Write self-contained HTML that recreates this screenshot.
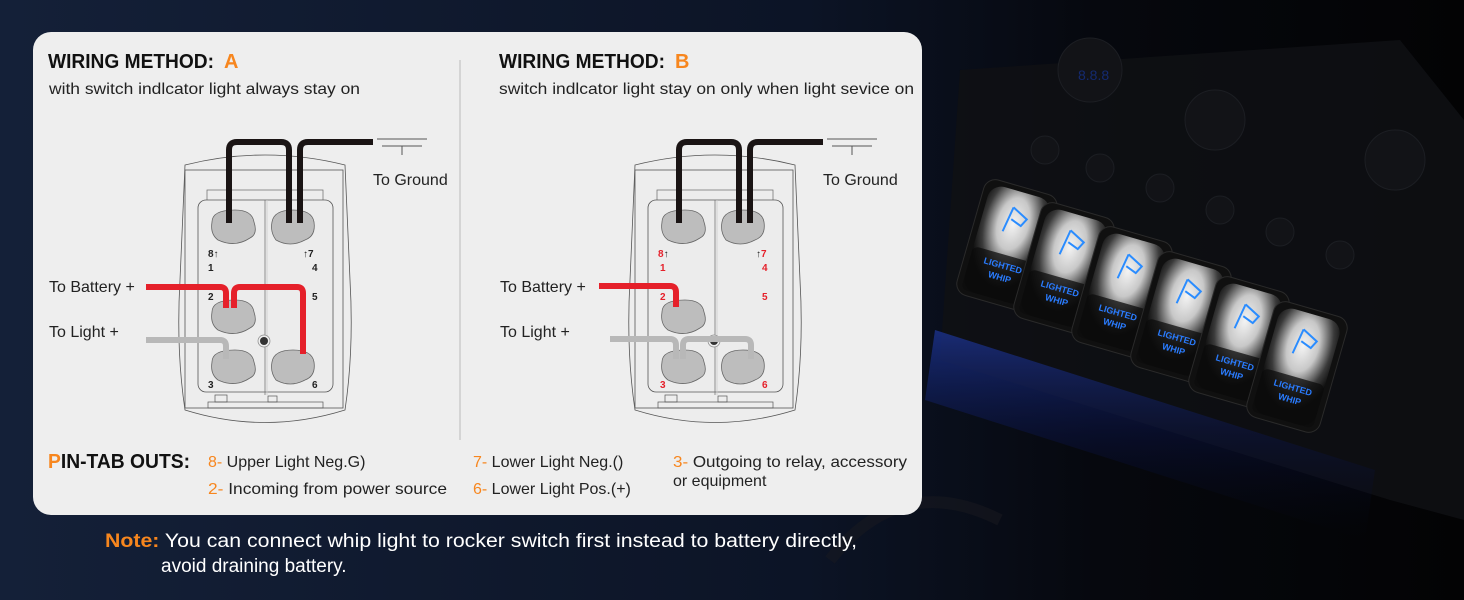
<!DOCTYPE html>
<html><head><meta charset="utf-8"><style>
html,body{margin:0;padding:0;width:1464px;height:600px;overflow:hidden;background:#0d1424}
svg{display:block}
text{font-family:"Liberation Sans",sans-serif}
</style></head><body>
<svg width="1464" height="600" viewBox="0 0 1464 600" xmlns="http://www.w3.org/2000/svg">
<defs>
<linearGradient id="bg" x1="0" y1="0" x2="1" y2="0">
<stop offset="0" stop-color="#142038"/><stop offset="0.55" stop-color="#0c1426"/><stop offset="0.75" stop-color="#06080e"/><stop offset="1" stop-color="#030304"/>
</linearGradient>
<radialGradient id="glow" cx="0.5" cy="0.3" r="0.6">
<stop offset="0" stop-color="#f4f4f4"/><stop offset="0.4" stop-color="#c8c8c8"/><stop offset="0.75" stop-color="#3a3a3a"/><stop offset="1" stop-color="#0a0a0a"/>
</radialGradient>
<linearGradient id="blue" x1="0" y1="0" x2="0" y2="1">
<stop offset="0" stop-color="#1d3596" stop-opacity="0.75"/><stop offset="0.5" stop-color="#0c1650" stop-opacity="0.4"/><stop offset="1" stop-color="#05081a" stop-opacity="0"/>
</linearGradient>
<g id="sw">
<path d="M45 35 Q125 15 205 35 L210 150 Q214 220 205 280 Q125 305 45 280 Q36 220 40 150 Z" fill="#ededed" stroke="#555" stroke-width="0.8"/>
<rect x="45" y="40" width="158" height="238" fill="#ededed" stroke="#555" stroke-width="0.8"/>
<rect x="67" y="60" width="116" height="12" fill="none" stroke="#666" stroke-width="0.7"/>
<rect x="58" y="70" width="135" height="192" rx="8" fill="#ececec" stroke="#555" stroke-width="0.8"/>
<line x1="125" y1="70" x2="125" y2="265" stroke="#777" stroke-width="0.8"/>
<line x1="127" y1="70" x2="127" y2="265" stroke="#ccc" stroke-width="0.8"/>
<rect x="75" y="265" width="12" height="7" fill="none" stroke="#555" stroke-width="0.7"/>
<rect x="128" y="266" width="9" height="6" fill="none" stroke="#555" stroke-width="0.7"/>
<rect x="68" y="272" width="115" height="6" fill="none" stroke="#555" stroke-width="0.7"/>
<g fill="#bdbdbd" stroke="#666" stroke-width="0.8">
<path d="M72 92 Q72 80 95 80 Q112 80 114 92 Q118 104 110 108 Q95 118 78 110 Q70 104 72 92Z"/>
<path d="M132 92 Q134 80 153 80 Q172 80 174 92 Q176 106 165 110 Q150 118 136 110 Q130 102 132 92Z"/>
<path d="M72 182 Q72 170 95 170 Q112 170 114 182 Q118 194 110 198 Q95 208 78 200 Q70 194 72 182Z"/>
<path d="M72 232 Q72 220 95 220 Q112 220 114 232 Q118 244 110 248 Q95 258 78 250 Q70 244 72 232Z"/>
<path d="M132 232 Q134 220 153 220 Q172 220 174 232 Q176 246 165 250 Q150 258 136 250 Q130 242 132 232Z"/>
</g>
<circle cx="124" cy="211" r="6" fill="#eee" stroke="#888" stroke-width="0.7"/>
<circle cx="124" cy="211" r="4" fill="#333"/>
<g fill="none" stroke="#1a1414" stroke-width="6" stroke-linejoin="round">
<path d="M89 93 V20 Q89 12 97 12 H141 Q149 12 149 20 V93"/>
<path d="M160 93 V20 Q160 12 168 12 H233"/>
</g>
<g stroke="#555" stroke-width="1"><line x1="237" y1="9" x2="287" y2="9"/><line x1="242" y1="16" x2="282" y2="16"/><line x1="262" y1="16" x2="262" y2="25"/></g>
<text x="233" y="55" font-size="16" fill="#222">To Ground</text>
</g>
<g id="rk">
<rect x="-38" y="-60" width="76" height="120" rx="12" fill="#101010" stroke="#2a2a2a"/>
<rect x="-32" y="-55" width="64" height="110" rx="14" fill="url(#glow)"/>
<rect x="-32" y="10" width="64" height="45" rx="6" fill="#0c0c0c" opacity="0.75"/>
<path d="M-8 -12 L-4 -38 M-4 -38 L12 -30 L8 -22 L-3 -26" stroke="#2a8cff" stroke-width="2" fill="none"/>
<text x="-18" y="24" font-size="9" fill="#2a7cff" font-weight="bold">LIGHTED</text>
<text x="-10" y="36" font-size="9" fill="#2a7cff" font-weight="bold">WHIP</text>
</g>
</defs>
<rect width="1464" height="600" fill="url(#bg)"/>
<!-- photo panel -->
<path d="M960 70 L1400 40 L1464 120 L1464 520 L1390 500 L940 360 Z" fill="#0f1114" opacity="0.85"/>
<path d="M935 330 L1375 470 L1365 540 L925 400 Z" fill="url(#blue)"/>
<g fill="#121317" stroke="#1c1e23">
<circle cx="1090" cy="70" r="32"/><circle cx="1215" cy="120" r="30"/><circle cx="1395" cy="160" r="30"/>
<circle cx="1045" cy="150" r="14"/><circle cx="1100" cy="168" r="14"/><circle cx="1160" cy="188" r="14"/><circle cx="1220" cy="210" r="14"/><circle cx="1280" cy="232" r="14"/><circle cx="1340" cy="255" r="14"/>
</g>
<text x="1078" y="80" font-size="14" fill="#142a70" font-family="Liberation Mono">8.8.8</text>
<use href="#rk" transform="translate(1007,245) rotate(16)"/>
<use href="#rk" transform="translate(1064,268) rotate(16)"/>
<use href="#rk" transform="translate(1122,292) rotate(16)"/>
<use href="#rk" transform="translate(1181,317) rotate(16)"/>
<use href="#rk" transform="translate(1239,342) rotate(16)"/>
<use href="#rk" transform="translate(1297,367) rotate(16)"/>
<path d="M830 560 Q900 470 1000 520" stroke="#1a1a1f" stroke-width="12" fill="none" opacity="0.5"/>
<!-- card -->
<rect x="33" y="32" width="889" height="483" rx="18" fill="#eeeeee"/>
<line x1="460" y1="60" x2="460" y2="440" stroke="#bbb" stroke-width="1"/>
<text x="48" y="68" font-size="20" font-weight="bold" fill="#111" textLength="166" lengthAdjust="spacingAndGlyphs">WIRING METHOD:</text>
<text x="224" y="68" font-size="20" font-weight="bold" fill="#f7861e">A</text>
<text x="49" y="94" font-size="16" fill="#222" textLength="311" lengthAdjust="spacingAndGlyphs">with switch indlcator light always stay on</text>
<text x="499" y="68" font-size="20" font-weight="bold" fill="#111" textLength="166" lengthAdjust="spacingAndGlyphs">WIRING METHOD:</text>
<text x="675" y="68" font-size="20" font-weight="bold" fill="#f7861e">B</text>
<text x="499" y="94" font-size="16" fill="#222" textLength="415" lengthAdjust="spacingAndGlyphs">switch indlcator light stay on only when light sevice on</text>

<!-- Switch A -->
<g transform="translate(140,130)">
<use href="#sw"/>
<g font-size="10" font-weight="bold" fill="#222">
<text x="68" y="127">8↑</text><text x="163" y="127">↑7</text>
<text x="68" y="141">1</text><text x="172" y="141">4</text>
<text x="68" y="170">2</text><text x="172" y="170">5</text>
<text x="68" y="258">3</text><text x="172" y="258">6</text>
</g>
<g fill="none" stroke-width="6" stroke-linejoin="round">
<path d="M6 157 H80 Q86 157 86 163 V178" stroke="#e5202a"/>
<path d="M94 178 V163 Q94 157 100 157 H157 Q163 157 163 163 V224" stroke="#e5202a"/>
<path d="M6 210 H80 Q86 210 86 216 V229" stroke="#b8b8b8"/>
</g>
</g>
<text x="49" y="292" font-size="16" fill="#222">To Battery +</text>
<text x="49" y="337" font-size="16" fill="#222">To Light +</text>

<!-- Switch B -->
<g transform="translate(590,130)">
<use href="#sw"/>
<g font-size="10" font-weight="bold" fill="#e5202a">
<text x="68" y="127">8<tspan fill="#222">↑</tspan></text><text x="166" y="127"><tspan fill="#222">↑</tspan>7</text>
<text x="70" y="141">1</text><text x="172" y="141">4</text>
<text x="70" y="170">2</text><text x="172" y="170">5</text>
<text x="70" y="258">3</text><text x="172" y="258">6</text>
</g>
<g fill="none" stroke-width="6" stroke-linejoin="round">
<path d="M9 156 H80 Q86 156 86 162 V177" stroke="#e5202a"/>
<path d="M20 209 H80 Q86 209 86 215 V229" stroke="#b8b8b8"/>
<path d="M93 229 V215 Q93 209 99 209 H155 Q161 209 161 215 V229" stroke="#b8b8b8"/>
</g>
</g>
<text x="500" y="292" font-size="16" fill="#222">To Battery +</text>
<text x="500" y="337" font-size="16" fill="#222">To Light +</text>

<!-- Pin tab outs -->
<text x="48" y="468" font-size="20" font-weight="bold" fill="#111" textLength="142" lengthAdjust="spacingAndGlyphs"><tspan fill="#f7861e">P</tspan>IN-TAB OUTS:</text>
<g font-size="16" fill="#222">
<text x="208" y="467"><tspan fill="#f7861e">8-</tspan> Upper Light Neg.G)</text>
<text x="208" y="494" textLength="239" lengthAdjust="spacingAndGlyphs"><tspan fill="#f7861e">2-</tspan> Incoming from power source</text>
<text x="473" y="467"><tspan fill="#f7861e">7-</tspan> Lower Light Neg.()</text>
<text x="473" y="494"><tspan fill="#f7861e">6-</tspan> Lower Light Pos.(+)</text>
<text x="673" y="467" textLength="234" lengthAdjust="spacingAndGlyphs"><tspan fill="#f7861e">3-</tspan> Outgoing to relay, accessory</text>
<text x="673" y="486">or equipment</text>
</g>
<text x="105" y="547" font-size="19" fill="#fff" textLength="752" lengthAdjust="spacingAndGlyphs"><tspan fill="#f7861e" font-weight="bold">Note:</tspan> You can connect whip light to rocker switch first instead to battery directly,</text>
<text x="161" y="572" font-size="19" fill="#fff">avoid draining battery.</text>
</svg>
</body></html>
